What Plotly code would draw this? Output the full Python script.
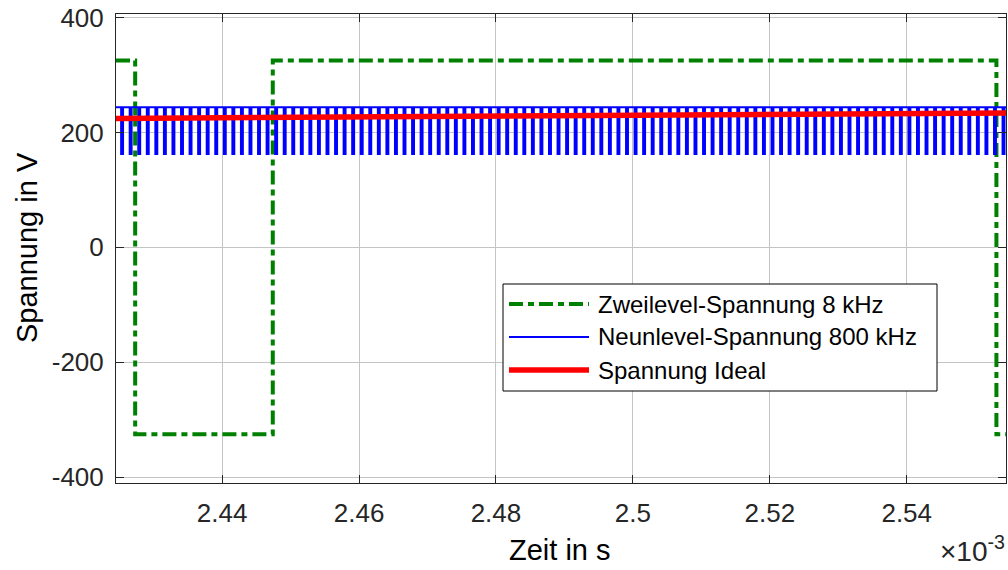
import plotly.graph_objects as go

# Time axis in units of 1e-3 s (ms)
x_range = [2.4245, 2.5545]
y_range = [-410, 406]

# Two-level inverter output (8 kHz): switching instants and levels (step, hold-after)
two_t = [2.4245, 2.4273, 2.4474, 2.5531, 2.5545]
two_v = [325, -325, 325, -325, -325]

# Nine-level inverter output (800 kHz): toggles between two adjacent levels
nine_levels = [162.5, 243.75]   # low, high
nine_period = 0.00125           # ms  (800 kHz)
nine_dip = 0.00028              # ms spent on the low level per period
nine_first_dip = 2.42525        # ms

# Ideal sinusoidal reference near its crest
ideal_t = [2.4245, 2.46, 2.5, 2.5545]
ideal_v = [224.3, 226.9, 229.8, 233.7]

x_ticks = [2.44, 2.46, 2.48, 2.50, 2.52, 2.54]
x_ticklabels = ["2.44", "2.46", "2.48", "2.5", "2.52", "2.54"]
y_ticks = [-400, -200, 0, 200, 400]
y_ticklabels = ["-400", "-200", "0", "200", "400"]

legend_names = ["Zweilevel-Spannung 8 kHz", "Neunlevel-Spannung 800 kHz", "Spannung Ideal"]

GREEN = "#008000"
BLUE = "#0000FF"
RED = "#FF0000"
FONT = "Liberation Sans, Arial, sans-serif"
INK = "#262626"

# build the nine-level PWM trace from its switching pattern
low, high = nine_levels
nt, nv = [x_range[0]], [high]
td = nine_first_dip
while td < x_range[1]:
    te = min(td + nine_dip, x_range[1])
    nt += [td, td, te, te]
    nv += [high, low, low, high]
    td += nine_period
nt.append(x_range[1])
nv.append(high)

fig = go.Figure()
fig.add_trace(go.Scatter(x=two_t, y=two_v, mode="lines", line_shape="hv",
                         line=dict(color=GREEN, width=4, dash="14px,5px,6px,5px"),
                         name=legend_names[0], showlegend=False))
fig.add_trace(go.Scatter(x=nt, y=nv, mode="lines",
                         line=dict(color=BLUE, width=2),
                         name=legend_names[1], showlegend=False))
fig.add_trace(go.Scatter(x=ideal_t, y=ideal_v, mode="lines",
                         line=dict(color=RED, width=5.5),
                         name=legend_names[2], showlegend=False))

W, H = 1008, 570
L, R, T, B = 116, 2, 14, 87
pw, ph = W - L - R, H - T - B


def px(x):
    return (x - L) / pw


def py(y):
    return (H - B - y) / ph


axis_common = dict(showgrid=True, gridcolor="#c4c4c4", gridwidth=1,
                   showline=True, linecolor=INK, linewidth=1, mirror="ticks",
                   ticks="inside", ticklen=8, tickcolor=INK, tickwidth=1,
                   zeroline=False, tickfont=dict(family=FONT, size=26, color=INK))

fig.update_xaxes(range=x_range, tickvals=x_ticks, ticktext=x_ticklabels,
                 ticklabelstandoff=7, **axis_common)
fig.update_yaxes(range=y_range, tickvals=y_ticks, ticktext=y_ticklabels,
                 ticklabelstandoff=6, **axis_common)

# legend box drawn in paper space
shapes = [dict(type="rect", xref="paper", yref="paper",
               x0=px(503), x1=px(937), y0=py(391), y1=py(284),
               line=dict(color="black", width=1), fillcolor="white", layer="above")]
row_y = [304, 337, 370]
row_style = [dict(color=GREEN, width=4, dash="14px,5px,6px,5px"),
             dict(color=BLUE, width=2),
             dict(color=RED, width=5.5)]
annotations = []
for yy, st, name in zip(row_y, row_style, legend_names):
    shapes.append(dict(type="line", xref="paper", yref="paper",
                       x0=px(509), x1=px(589), y0=py(yy), y1=py(yy),
                       line=st, layer="above"))
    annotations.append(dict(xref="paper", yref="paper", x=px(596), y=py(yy),
                            xanchor="left", yanchor="middle", showarrow=False,
                            text=name, font=dict(family=FONT, size=24, color="black")))

annotations += [
    dict(xref="paper", yref="paper", x=px(27), y=py(248), textangle=-90,
         xanchor="center", yanchor="middle", showarrow=False, text="Spannung in V",
         font=dict(family=FONT, size=29, color="black")),
    dict(xref="paper", yref="paper", x=px(560), y=py(550),
         xanchor="center", yanchor="middle", showarrow=False, text="Zeit in s",
         font=dict(family=FONT, size=29, color="black")),
    dict(xref="paper", yref="paper", x=px(1007), y=py(569),
         xanchor="right", yanchor="bottom", showarrow=False,
         text="×10<sup>-3</sup>", font=dict(family=FONT, size=28, color=INK)),
]

fig.update_layout(width=W, height=H, margin=dict(l=L, r=R, t=T, b=B),
                  plot_bgcolor="white", paper_bgcolor="white",
                  showlegend=False, shapes=shapes, annotations=annotations)

fig.write_html("out.html", config={"displayModeBar": False})
